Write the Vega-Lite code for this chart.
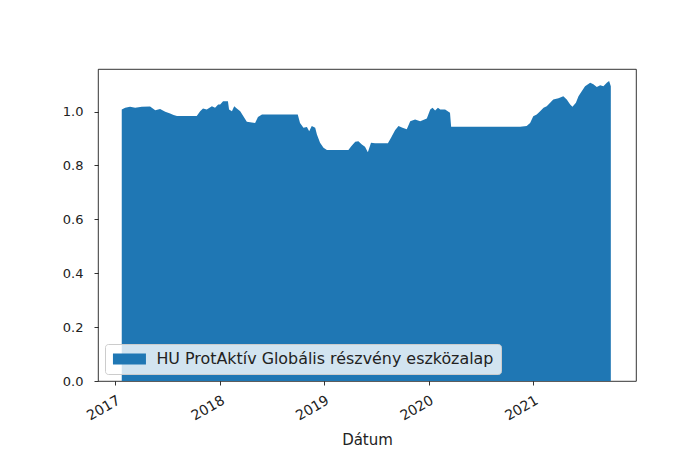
{
  "$schema": "https://vega.github.io/schema/vega-lite/v6.json",
  "autosize": {"type": "none"},
  "width": 538,
  "height": 312,
  "padding": {"left": 98, "top": 69, "right": 57, "bottom": 86},
  "background": "#ffffff",
  "config": {
    "font": "DejaVu Sans",
    "view": {"stroke": "#000000", "strokeWidth": 0.8},
    "axis": {
      "grid": false,
      "domain": false,
      "tickColor": "#000000",
      "tickSize": 4,
      "tickWidth": 0.8,
      "labelFont": "DejaVu Sans",
      "labelFontSize": 13,
      "labelColor": "#222222",
      "titleFont": "DejaVu Sans",
      "titleFontSize": 15,
      "titleFontWeight": "normal",
      "titleColor": "#222222"
    }
  },
  "data": {
    "values": [
      {"date": "2017-01-24", "value": 1.008},
      {"date": "2017-02-05", "value": 1.014},
      {"date": "2017-02-22", "value": 1.018},
      {"date": "2017-03-12", "value": 1.014},
      {"date": "2017-04-04", "value": 1.018},
      {"date": "2017-05-03", "value": 1.019},
      {"date": "2017-05-21", "value": 1.005},
      {"date": "2017-06-07", "value": 1.010},
      {"date": "2017-06-25", "value": 0.999},
      {"date": "2017-07-12", "value": 0.993},
      {"date": "2017-07-24", "value": 0.987},
      {"date": "2017-08-05", "value": 0.984},
      {"date": "2017-10-13", "value": 0.984},
      {"date": "2017-10-25", "value": 1.001},
      {"date": "2017-11-04", "value": 1.011},
      {"date": "2017-11-17", "value": 1.008},
      {"date": "2017-12-05", "value": 1.020},
      {"date": "2017-12-16", "value": 1.014},
      {"date": "2017-12-27", "value": 1.026},
      {"date": "2018-01-03", "value": 1.026},
      {"date": "2018-01-13", "value": 1.038},
      {"date": "2018-01-30", "value": 1.038},
      {"date": "2018-02-03", "value": 1.008},
      {"date": "2018-02-13", "value": 1.001},
      {"date": "2018-02-21", "value": 1.020},
      {"date": "2018-03-02", "value": 1.011},
      {"date": "2018-03-14", "value": 1.001},
      {"date": "2018-03-25", "value": 0.983},
      {"date": "2018-04-06", "value": 0.962},
      {"date": "2018-05-05", "value": 0.958},
      {"date": "2018-05-15", "value": 0.980},
      {"date": "2018-05-29", "value": 0.989},
      {"date": "2018-10-01", "value": 0.989},
      {"date": "2018-10-09", "value": 0.958},
      {"date": "2018-10-21", "value": 0.940},
      {"date": "2018-11-02", "value": 0.943},
      {"date": "2018-11-10", "value": 0.927},
      {"date": "2018-11-19", "value": 0.946},
      {"date": "2018-12-01", "value": 0.940},
      {"date": "2018-12-07", "value": 0.915},
      {"date": "2018-12-18", "value": 0.884},
      {"date": "2018-12-30", "value": 0.866},
      {"date": "2019-01-11", "value": 0.857},
      {"date": "2019-03-27", "value": 0.857},
      {"date": "2019-04-06", "value": 0.871},
      {"date": "2019-04-20", "value": 0.888},
      {"date": "2019-05-01", "value": 0.890},
      {"date": "2019-05-13", "value": 0.878},
      {"date": "2019-05-24", "value": 0.869},
      {"date": "2019-06-03", "value": 0.849},
      {"date": "2019-06-14", "value": 0.884},
      {"date": "2019-06-28", "value": 0.882},
      {"date": "2019-08-12", "value": 0.882},
      {"date": "2019-08-23", "value": 0.903},
      {"date": "2019-09-06", "value": 0.931},
      {"date": "2019-09-18", "value": 0.946},
      {"date": "2019-10-02", "value": 0.940},
      {"date": "2019-10-17", "value": 0.934},
      {"date": "2019-10-29", "value": 0.964},
      {"date": "2019-11-15", "value": 0.971},
      {"date": "2019-12-03", "value": 0.964},
      {"date": "2019-12-26", "value": 0.974},
      {"date": "2020-01-07", "value": 1.008},
      {"date": "2020-01-15", "value": 1.014},
      {"date": "2020-01-24", "value": 1.004},
      {"date": "2020-02-03", "value": 1.014},
      {"date": "2020-02-11", "value": 1.008},
      {"date": "2020-02-28", "value": 1.008},
      {"date": "2020-03-16", "value": 0.996},
      {"date": "2020-03-20", "value": 0.944},
      {"date": "2020-11-16", "value": 0.944},
      {"date": "2020-12-09", "value": 0.946},
      {"date": "2020-12-21", "value": 0.958},
      {"date": "2021-01-01", "value": 0.983},
      {"date": "2021-01-13", "value": 0.989},
      {"date": "2021-01-25", "value": 1.001},
      {"date": "2021-02-06", "value": 1.014},
      {"date": "2021-02-17", "value": 1.020},
      {"date": "2021-03-01", "value": 1.033},
      {"date": "2021-03-12", "value": 1.045},
      {"date": "2021-03-30", "value": 1.049},
      {"date": "2021-04-16", "value": 1.057},
      {"date": "2021-04-28", "value": 1.045},
      {"date": "2021-05-10", "value": 1.026},
      {"date": "2021-05-18", "value": 1.018},
      {"date": "2021-05-30", "value": 1.033},
      {"date": "2021-06-08", "value": 1.057},
      {"date": "2021-06-20", "value": 1.076},
      {"date": "2021-07-01", "value": 1.094},
      {"date": "2021-07-19", "value": 1.107},
      {"date": "2021-07-30", "value": 1.101},
      {"date": "2021-08-11", "value": 1.091},
      {"date": "2021-08-23", "value": 1.098},
      {"date": "2021-09-03", "value": 1.094},
      {"date": "2021-09-15", "value": 1.107},
      {"date": "2021-09-23", "value": 1.113},
      {"date": "2021-09-29", "value": 1.094}
    ]
  },
  "mark": {"type": "area", "opacity": 1, "line": false},
  "encoding": {
    "x": {
      "field": "date",
      "type": "temporal",
      "title": "Dátum",
      "scale": {
        "type": "utc",
        "domain": [{"year": 2016, "month": 11, "date": 2, "utc": true}, {"year": 2021, "month": 12, "date": 26, "utc": true}],
        "nice": false
      },
      "axis": {
        "values": [
          {"year": 2017, "month": 1, "date": 1, "utc": true},
          {"year": 2018, "month": 1, "date": 1, "utc": true},
          {"year": 2019, "month": 1, "date": 1, "utc": true},
          {"year": 2020, "month": 1, "date": 1, "utc": true},
          {"year": 2021, "month": 1, "date": 1, "utc": true}
        ],
        "format": "%Y",
        "labelAngle": -30,
        "labelAlign": "right",
        "labelBaseline": "top",
        "labelFontSize": 14,
        "labelPadding": 8,
        "titlePadding": 10,
        "labelFlush": false,
        "labelOverlap": false
      }
    },
    "y": {
      "field": "value",
      "type": "quantitative",
      "title": null,
      "scale": {"domain": [0, 1.158], "nice": false, "zero": true},
      "axis": {"values": [0, 0.2, 0.4, 0.6, 0.8, 1.0], "format": ".1f", "labelPadding": 11}
    },
    "color": {
      "datum": "HU ProtAktív Globális részvény eszközalap",
      "type": "nominal",
      "scale": {"range": ["#1f77b4"]},
      "legend": {
        "title": null,
        "orient": "bottom-left",
        "offset": 7,
        "padding": 7,
        "symbolType": "M-3,-1H3V1H-3Z",
        "symbolSize": 121,
        "symbolOffset": 9.5,
        "symbolStrokeWidth": 0,
        "symbolOpacity": 1,
        "labelFont": "DejaVu Sans",
        "labelFontSize": 15.9,
        "labelColor": "#222222",
        "labelOffset": 19,
        "labelLimit": 0,
        "fillColor": "rgba(255,255,255,0.8)",
        "strokeColor": "#cccccc",
        "cornerRadius": 3
      }
    }
  }
}
